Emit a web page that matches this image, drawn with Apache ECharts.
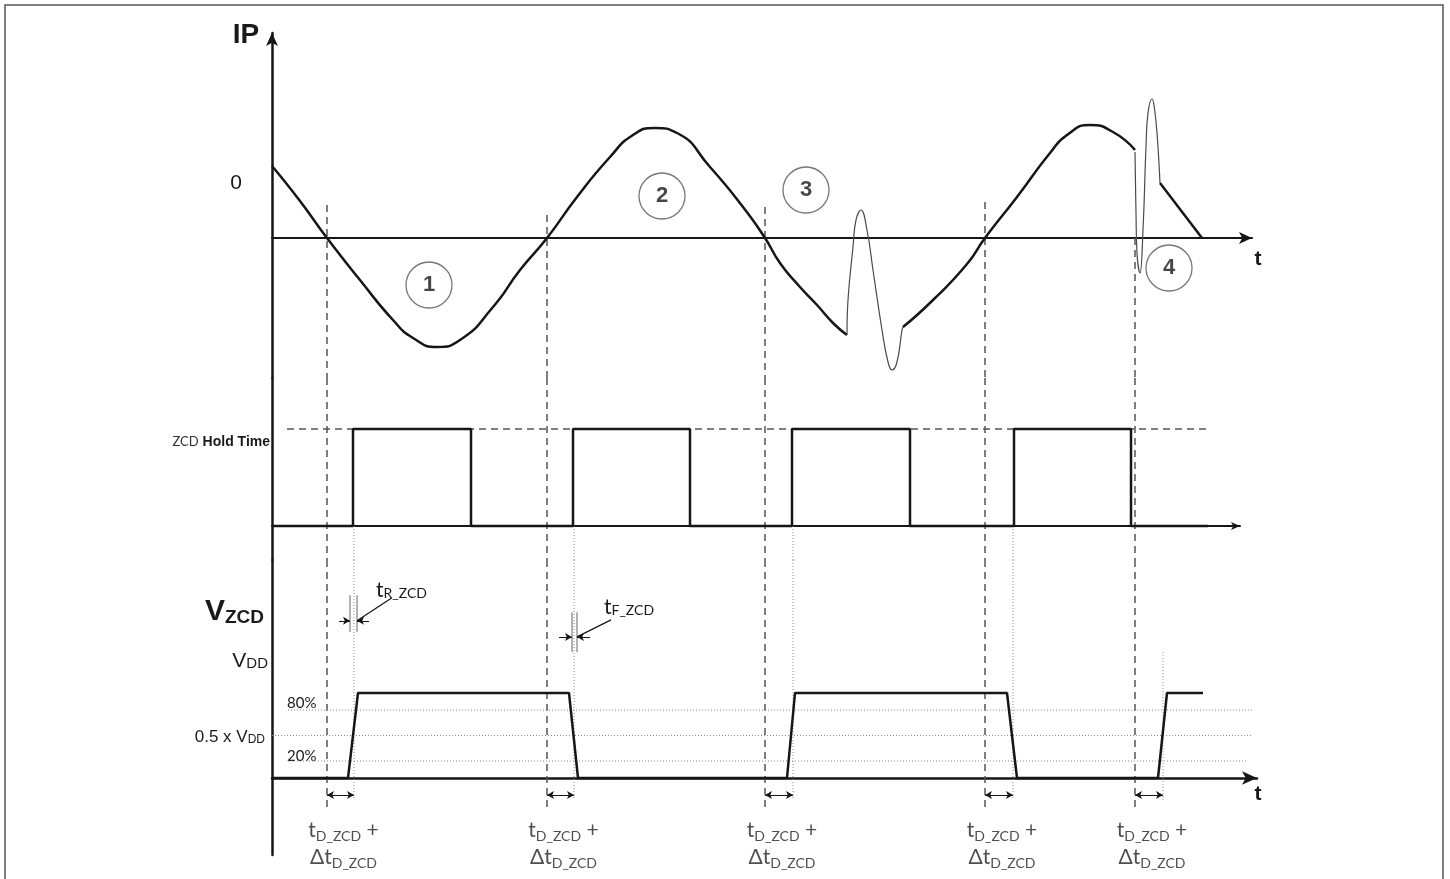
<!DOCTYPE html>
<html>
<head>
<meta charset="utf-8">
<script src="https://cdn.jsdelivr.net/npm/echarts@6/dist/echarts.min.js"></script>
<style>
html, body { margin: 0; padding: 0; background: #fff; }
#zcd-chart { width: 1450px; height: 879px; }
</style>
</head>
<body>
<div id="zcd-chart"></div>
<script>
// primary current IP (t, ip)
var ipSwingAT = [0, 2.8, 5.5, 8.8, 12.1, 14.1, 16.5, 18.8, 22.1, 24.8, 27.5, 30.5, 33.8, 36.1, 38.3, 40.5, 43.8, 47.1, 49.3, 50.8, 52.8, 54.5, 56.1, 57.5];
var ipSwingAV = [0.72, 0.37, 0, -0.42, -0.82, -1.00, -1.09, -1.02, -0.69, -0.32, 0, 0.41, 0.81, 1.03, 1.10, 1.05, 0.71, 0.31, 0, -0.25, -0.49, -0.67, -0.85, -0.97];
var ipRingAT = [57.5, 57.6, 58.1, 58.4, 58.9, 59.5, 60.1, 61.0, 61.6, 62.0, 62.5, 63.0, 63.1];
var ipRingAV = [-0.97, -0.62, -0.09, 0.18, 0.28, 0.08, -0.32, -0.92, -1.24, -1.32, -1.24, -0.92, -0.89];
var ipSwingBT = [63.1, 66.1, 69.5, 71.3, 74.5, 77.8, 79.5, 81.8, 84.1, 86.3];
var ipSwingBV = [-0.89, -0.62, -0.26, 0, 0.41, 0.85, 1.03, 1.13, 1.06, 0.88];
var ipRingBT = [86.3, 86.4, 86.5, 86.8, 87.1, 87.4, 87.6, 88.0, 88.2, 88.5, 88.8];
var ipRingBV = [0.86, 0.25, -0.15, -0.35, 0.08, 0.91, 1.25, 1.39, 1.33, 1.05, 0.55];
var ipTailT = [88.8, 93.0];
var ipTailV = [0.55, 0];

// ZCD hold time pulses
var holdT = [0, 8.1, 8.1, 19.9, 19.9, 30.1, 30.1, 41.8, 41.8, 52.0, 52.0, 63.8, 63.8, 74.2, 74.2, 85.9, 85.9, 93.6];
var holdV = [0, 0, 1, 1, 0, 0, 1, 1, 0, 0, 1, 1, 0, 0, 1, 1, 0, 0];
var holdLevelT = [1.5, 93.6];

// VZCD output (fraction of VDD)
var vzcdT = [0, 7.6, 8.6, 29.7, 30.6, 51.5, 52.3, 73.5, 74.5, 88.6, 89.5, 93.1];
var vzcdV = [0, 0, 1, 1, 0, 0, 1, 1, 0, 0, 1, 1];
var vzcdLevels = [0.8, 0.5, 0.2];
var levelStartT = [1.6, 0, 1.6];
var levelEndT = [98.1, 98.1, 97.5];

// zero crossings of IP and 50% crossings of VZCD
var zcdCrossT = [5.5, 27.5, 49.3, 71.3, 86.3];
var zcdDashTopIp = [0.33, 0.23, 0.31, 0.36, 0];
var halfVddT = [8.2, 30.2, 52.1, 74.1, 89.1];
var halfFromHold = [true, true, true, true, false];
var lastHalfTopV = 1.48;

// rise / fall time markers
var riseEdgeT = [7.8, 8.5];
var riseEdgeV = [2.15, 1.72];
var fallEdgeT = [30.0, 30.5];
var fallEdgeV = [1.95, 1.48];

var stageTags = ['1', '2', '3', '4'];
var stageT = [15.7, 39.0, 53.4, 89.7];
var stageIp = [-0.47, 0.42, 0.48, -0.30];

function band(zeroPx, pxPerUnit, topPx, bottomPx) {
   return {
      top: topPx,
      height: bottomPx - topPx,
      max: (zeroPx - topPx) / pxPerUnit,
      min: (zeroPx - bottomPx) / pxPerUnit
   };
}
var ipBand = band(238, 100, 33, 378);
var holdBand = band(526, 97, 378, 560);
var vBand = band(778, 85, 560, 855);
var bands = [ipBand, holdBand, vBand];
var tMax = [98, 96.8, 98.5];
var arrowSize = [[9, 13], [6, 9], [10, 15]];
var baseWidth = [2, 2, 2.5];

var INK = '#161616';
var thick = { color: INK, width: 2.5 };
var thin = { color: '#4a4a4a', width: 1.2 };
var dash = { color: '#555', width: 1.5, type: [7, 5] };
var dots = { color: '#8a8a8a', width: 1, type: [1, 2] };
var fine = { color: '#666', width: 1 };

function path(g, ts, vs, style, smooth) {
   return {
      type: 'line', xAxisIndex: g, yAxisIndex: g,
      data: ts.map(function (t, i) { return [t, vs[i]]; }),
      symbol: 'none', smooth: smooth || false, lineStyle: style,
      silent: true, animation: false
   };
}

function arrows(pairs, ends, size) {
   return {
      type: 'line', xAxisIndex: 2, yAxisIndex: 2, data: [[0, 0]], symbol: 'none',
      lineStyle: { width: 0 }, silent: true, animation: false,
      markLine: {
         silent: true, animation: false, symbol: ends, symbolSize: size,
         label: { show: false },
         lineStyle: { color: INK, width: 1, type: 'solid' },
         emphasis: { disabled: true },
         data: pairs.map(function (p) { return [{ coord: [p[0], p[2]] }, { coord: [p[1], p[2]] }]; })
      }
   };
}

var series = [];

// dashed zero-crossing markers through all three panels
zcdCrossT.forEach(function (t, i) {
   series.push(path(0, [t, t], [zcdDashTopIp[i], ipBand.min], dash));
   series.push(path(1, [t, t], [holdBand.max, holdBand.min], dash));
   series.push(path(2, [t, t], [vBand.max, -0.4], dash));
});

// dotted 50% markers
halfVddT.forEach(function (t, i) {
   if (halfFromHold[i]) {
      series.push(path(1, [t, t], [0, holdBand.min], dots));
      series.push(path(2, [t, t], [vBand.max, -0.26], dots));
   } else {
      series.push(path(2, [t, t], [lastHalfTopV, -0.26], dots));
   }
});

// threshold levels
vzcdLevels.forEach(function (v, i) {
   series.push(path(2, [levelStartT[i], levelEndT[i]], [v, v], dots));
});

// IP waveform
series.push(path(0, ipSwingAT, ipSwingAV, thick, 0.55));
series.push(path(0, ipRingAT, ipRingAV, thin, 0.45));
series.push(path(0, ipSwingBT, ipSwingBV, thick, 0.55));
series.push(path(0, ipRingBT, ipRingBV, thin, 0.45));
series.push(path(0, ipTailT, ipTailV, thick));

// hold time
series.push(path(1, holdLevelT, [1, 1], dash));
series.push(path(1, holdT, holdV, thick));

// VZCD
series.push(path(2, vzcdT, vzcdV, thick));

// rise / fall edge markers
riseEdgeT.forEach(function (t) { series.push(path(2, [t, t], riseEdgeV, fine)); });
fallEdgeT.forEach(function (t) { series.push(path(2, [t, t], fallEdgeV, fine)); });
series.push(path(2, [8.5, 12.0], [1.85, 2.12], { color: INK, width: 1.2 }));
series.push(path(2, [30.5, 33.9], [1.66, 1.86], { color: INK, width: 1.2 }));
series.push(arrows([[6.7, 7.8, 1.85], [9.7, 8.5, 1.85], [28.7, 30.0, 1.66], [31.8, 30.5, 1.66]], ['none', 'arrow'], [6, 7]));
series.push(arrows(zcdCrossT.map(function (t, i) { return [t, halfVddT[i], -0.2]; }), ['arrow', 'arrow'], [6, 7]));

// delay labels under the time axis
series.push({
   type: 'scatter', xAxisIndex: 2, yAxisIndex: 2, clip: false, silent: true, animation: false,
   symbolSize: 1, itemStyle: { color: 'rgba(0,0,0,0)' },
   data: zcdCrossT.map(function (t, i) { return [(t + halfVddT[i]) / 2 + 0.3, -0.77]; }),
   label: {
      show: true, position: 'inside', color: '#222', fontFamily: 'Lato', fontSize: 21, lineHeight: 27,
      formatter: 't{s|D_ZCD} +\n\u0394t{s|D_ZCD}',
      rich: { s: { fontFamily: 'Lato', fontSize: 14, verticalAlign: 'bottom', lineHeight: 27, color: '#222' } }
   }
});

// numbered circles
series.push({
   type: 'scatter', xAxisIndex: 0, yAxisIndex: 0, silent: true, animation: false,
   symbol: 'circle', symbolSize: 46,
   itemStyle: { color: 'rgba(255,255,255,0)', borderColor: '#555', borderWidth: 1.3 },
   data: stageT.map(function (t, i) { return [t, stageIp[i]]; }),
   label: {
      show: true, position: 'inside', color: INK, fontFamily: 'Liberation Sans', fontWeight: 'bold', fontSize: 22,
      formatter: function (p) { return stageTags[p.dataIndex]; }
   },
   z: 5
});

function note(x, y, text, align, base, rich) {
   var style = { text: text, fill: '#1a1a1a', align: align, verticalAlign: 'middle', rich: rich || {} };
   Object.keys(base).forEach(function (k) { style[k] = base[k]; });
   return { type: 'text', x: x, y: y, silent: true, style: style };
}
var sans = 'Liberation Sans';
var subSmall = function (size, weight, fam) {
   return { s: { fontSize: size, fontWeight: weight || 'normal', fontFamily: fam || sans, verticalAlign: 'bottom', fill: '#1a1a1a' } };
};

var graphics = [
   { type: 'rect', silent: true, shape: { x: 5, y: 5, width: 1438, height: 900 }, style: { fill: 'none', stroke: '#555', lineWidth: 1.5 } },
   note(246, 35, 'IP', 'center', { fontFamily: sans, fontWeight: 'bold', fontSize: 28 }),
   note(236, 183, '0', 'center', { fontFamily: sans, fontSize: 21 }),
   note(1258, 259, 't', 'center', { fontFamily: sans, fontWeight: 'bold', fontSize: 21 }),
   note(1258, 794, 't', 'center', { fontFamily: sans, fontWeight: 'bold', fontSize: 21 }),
   note(270, 442, '{z|ZCD} Hold Time', 'right', { fontFamily: sans, fontWeight: '600', fontSize: 14 },
      { z: { fontFamily: 'Lato', fontSize: 13, fill: '#333' } }),
   note(205, 612, 'V{s|ZCD}', 'left', { fontFamily: sans, fontWeight: 'bold', fontSize: 30 }, subSmall(19, 'bold')),
   note(268, 661, 'V{s|DD}', 'right', { fontFamily: sans, fontSize: 21 }, subSmall(15)),
   note(287, 703, '80%', 'left', { fontFamily: 'Lato', fontSize: 15 }),
   note(265, 737, '0.5 x V{s|DD}', 'right', { fontFamily: sans, fontSize: 17 }, subSmall(12)),
   note(287, 756, '20%', 'left', { fontFamily: 'Lato', fontSize: 15 }),
   note(376, 590, 't{s|R_ZCD}', 'left', { fontFamily: 'Lato', fontSize: 21 }, subSmall(14, 'normal', 'Lato')),
   note(604, 607, 't{s|F_ZCD}', 'left', { fontFamily: 'Lato', fontSize: 21 }, subSmall(14, 'normal', 'Lato'))
];

var option = {
   backgroundColor: '#fff',
   animation: false,
   grid: bands.map(function (b, g) {
      return { left: 272, top: b.top, width: tMax[g] * 10, height: b.height, containLabel: false };
   }),
   xAxis: bands.map(function (b, g) {
      return {
         type: 'value', gridIndex: g, min: 0, max: tMax[g],
         axisLine: { show: true, onZero: true, symbol: ['none', 'arrow'], symbolSize: arrowSize[g],
            lineStyle: { color: INK, width: baseWidth[g] } },
         axisTick: { show: false }, axisLabel: { show: false }, splitLine: { show: false }
      };
   }),
   yAxis: bands.map(function (b, g) {
      return {
         type: 'value', gridIndex: g, min: b.min, max: b.max,
         axisLine: { show: true, onZero: false, symbol: g === 0 ? ['none', 'arrow'] : 'none', symbolSize: [9, 13],
            lineStyle: { color: INK, width: 2.5 } },
         axisTick: { show: false }, axisLabel: { show: false }, splitLine: { show: false }
      };
   }),
   series: series,
   graphic: graphics
};

var chart = echarts.init(document.getElementById('zcd-chart'));
chart.setOption(option, true);
</script>
</body>
</html>
